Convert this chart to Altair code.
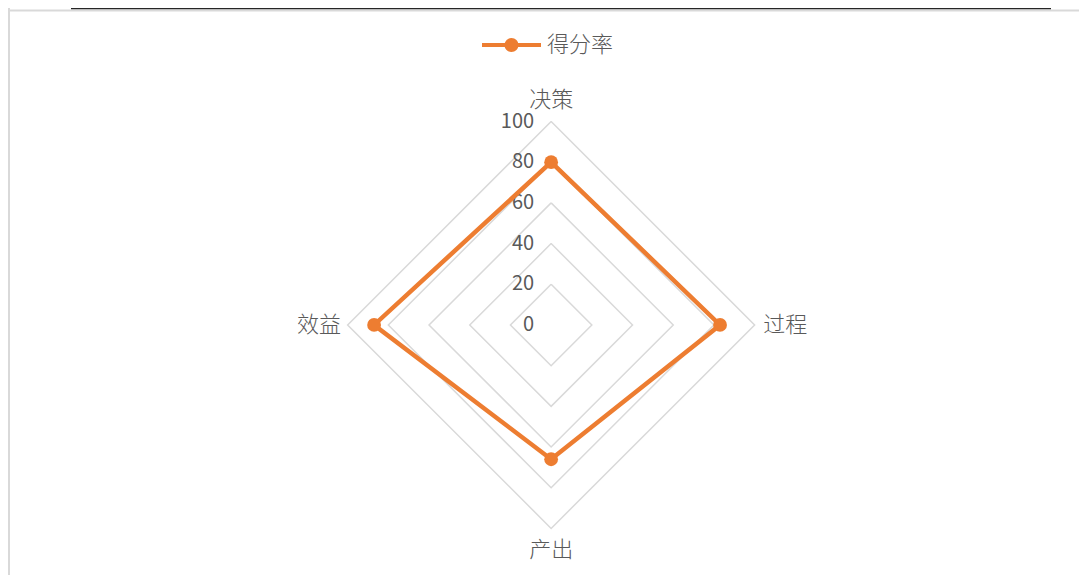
import altair as alt
import pandas as pd

# ---- data ----
categories = ["决策", "过程", "产出", "效益"]
scores = [80, 83, 66, 87]
series_name = "得分率"
grid_levels = [20, 40, 60, 80, 100]
tick_values = [0, 20, 40, 60, 80, 100]

ORANGE = "#ED7D31"
GRID = "#d9d9d9"
TEXT = "#595959"
FONT = "Noto Sans CJK SC"

n = len(categories)
ring = list(range(n)) + [0]

series_df = pd.DataFrame({
    "idx": list(range(n + 1)),
    "k": ring,
    "category": [categories[i] for i in ring],
    "value": [scores[i] for i in ring],
    "series": [series_name] * (n + 1),
})
points_df = series_df.iloc[:n].copy()
grid_df = pd.DataFrame(
    [{"level": L, "idx": j, "k": ring[j]} for L in grid_levels for j in range(n + 1)]
)
label_df = pd.DataFrame({"k": list(range(n)), "category": categories})
tick_df = pd.DataFrame({"tick": tick_values, "text": [str(t) for t in tick_values]})

W, H = 1071, 567
X = alt.Scale(domain=[-266.9, 259.4], nice=False, zero=False)
Y = alt.Scale(domain=[-122.9, 155.8], nice=False, zero=False)

theta = f"datum.k * 2 * PI / {n}"


def polar(chart, rfield, r_expr=None):
    r = r_expr if r_expr else f"datum.{rfield}"
    return chart.transform_calculate(
        px=f"({r}) * sin({theta})",
        py=f"({r}) * cos({theta})",
    )


grid = polar(alt.Chart(grid_df), "level").mark_line(
    color=GRID, strokeWidth=1.5
).encode(
    x=alt.X("px:Q", scale=X, axis=None),
    y=alt.Y("py:Q", scale=Y, axis=None),
    detail="level:N",
    order="idx:Q",
)

ticks = alt.Chart(tick_df).transform_calculate(tx="0").mark_text(
    align="right", baseline="middle", dx=-17, fontSize=20, font=FONT,
    color=TEXT
).encode(
    x=alt.X("tx:Q", scale=X, axis=None),
    y=alt.Y("tick:Q", scale=Y, axis=None),
    text="text:N",
)

line = polar(alt.Chart(series_df), "value").mark_line(
    color=ORANGE, strokeWidth=4.5
).encode(
    x=alt.X("px:Q", scale=X, axis=None),
    y=alt.Y("py:Q", scale=Y, axis=None),
    order="idx:Q",
)

sym_path = ("M-1,-0.068H1V0.068H-1Z "
            "M-0.237,0A0.237,0.237,0,1,1,0.237,0A0.237,0.237,0,1,1,-0.237,0Z")

pts = polar(alt.Chart(points_df), "value").mark_point(
    filled=True, size=190, opacity=1
).encode(
    x=alt.X("px:Q", scale=X, axis=None),
    y=alt.Y("py:Q", scale=Y, axis=None),
    color=alt.Color(
        "series:N",
        scale=alt.Scale(range=[ORANGE]),
        legend=alt.Legend(
            title=None, orient="none", legendX=474, legendY=7.5,
            symbolType=sym_path, symbolSize=3481, symbolStrokeWidth=0,
            symbolOpacity=1, labelFontSize=22, labelFont=FONT,
            labelFontWeight=300,
            labelColor=TEXT, labelOffset=6, padding=0,
        ),
    ),
)

lab_tb = polar(alt.Chart(label_df), "k", "110.5").transform_filter(
    "datum.k == 0 || datum.k == 2"
).mark_text(
    align="center", baseline="middle", fontSize=22, font=FONT, color=TEXT,
    fontWeight=300
).encode(
    x=alt.X("px:Q", scale=X, axis=None),
    y=alt.Y("py:Q", scale=Y, axis=None),
    text="category:N",
)
lab_r = polar(alt.Chart(label_df), "k", "104.2").transform_filter(
    "datum.k == 1"
).mark_text(
    align="left", baseline="middle", fontSize=22, font=FONT, color=TEXT,
    fontWeight=300
).encode(
    x=alt.X("px:Q", scale=X, axis=None),
    y=alt.Y("py:Q", scale=Y, axis=None),
    text="category:N",
)
lab_l = polar(alt.Chart(label_df), "k", "103.2").transform_filter(
    "datum.k == 3"
).mark_text(
    align="right", baseline="middle", fontSize=22, font=FONT, color=TEXT,
    fontWeight=300
).encode(
    x=alt.X("px:Q", scale=X, axis=None),
    y=alt.Y("py:Q", scale=Y, axis=None),
    text="category:N",
)

frame_src = pd.DataFrame({"f": [0]})
frame_v = alt.Chart(frame_src).mark_rule(color=GRID, strokeWidth=2).encode(
    x=alt.value(1), y=alt.value(0), y2=alt.value(H)
)
frame_h = alt.Chart(frame_src).mark_rule(color=GRID, strokeWidth=2).encode(
    x=alt.value(0), x2=alt.value(W), y=alt.value(2.5)
)
frame_k = alt.Chart(frame_src).mark_rule(color="#262626", strokeWidth=1.3).encode(
    x=alt.value(63), x2=alt.value(1043), y=alt.value(0.7)
)

chart = alt.layer(
    frame_v, frame_h, frame_k, grid, ticks, line, pts, lab_tb, lab_r, lab_l
).properties(
    width=W, height=H, padding=0,
    autosize=alt.AutoSizeParams(type="none"),
    background="white",
).configure_view(stroke=None)

chart.save("out.html", embed_options={"renderer": "svg", "actions": False})
